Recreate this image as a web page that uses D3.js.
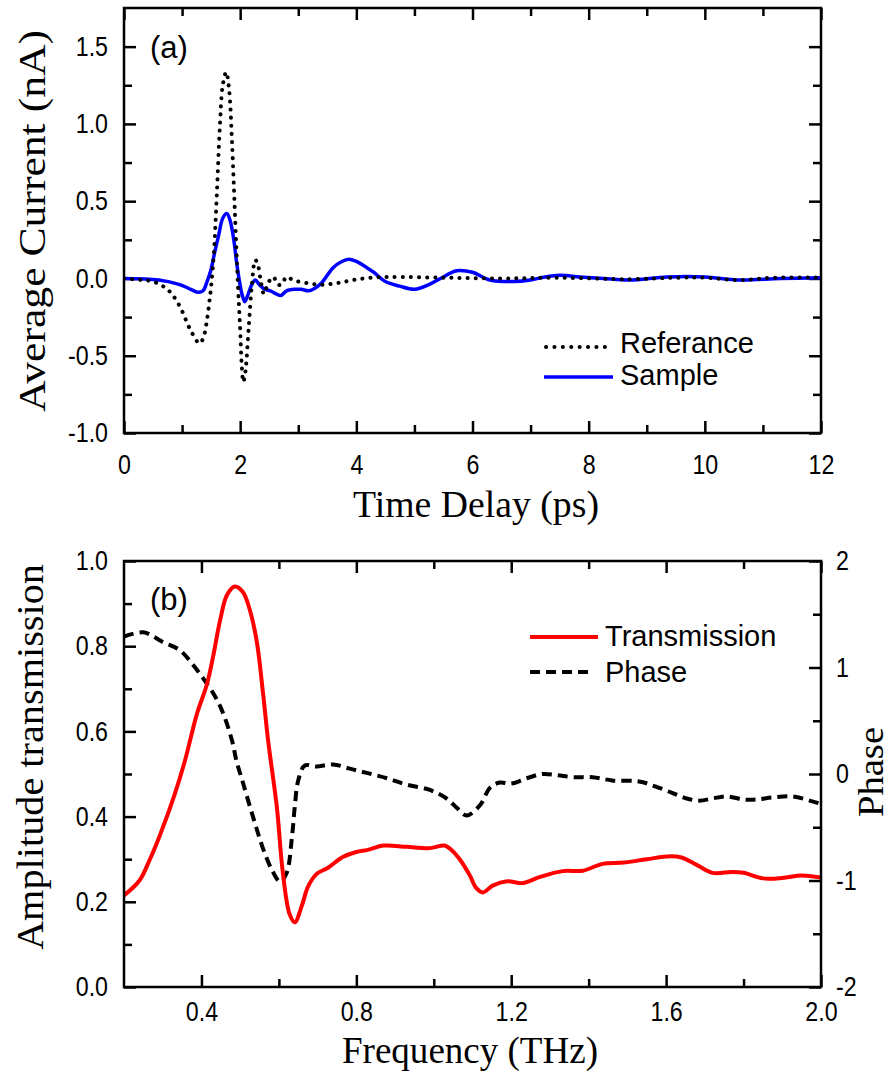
<!DOCTYPE html>
<html>
<head>
<meta charset="utf-8">
<script src="https://cdn.jsdelivr.net/npm/d3@7"></script>
<style>
  body { margin: 0; background: #fff; }
</style>
</head>
<body>
<script>
// ---- panel (a): time-domain waveforms ----
const refTime = [0, 0.3, 0.5, 0.67, 0.8, 0.96, 1.14, 1.3, 1.36, 1.42, 1.46, 1.5, 1.55, 1.6, 1.65, 1.7, 1.76, 1.81, 1.86, 1.91, 1.96, 2.0, 2.03, 2.055, 2.08, 2.1, 2.15, 2.2, 2.26, 2.31, 2.36, 2.41, 2.48, 2.57, 2.65, 2.71, 2.8, 2.91, 3.15, 3.4, 3.67, 3.95, 4.25, 4.6, 5.5, 6.5, 7.5, 8.7, 9.5, 10.0, 10.6, 11.2, 12];
const refCurrent = [0, -0.01, -0.02, -0.05, -0.09, -0.18, -0.33, -0.42, -0.39, -0.29, -0.18, -0.05, 0.18, 0.56, 0.98, 1.25, 1.335, 1.22, 0.88, 0.42, -0.03, -0.33, -0.58, -0.67, -0.63, -0.57, -0.3, -0.05, 0.12, 0.08, -0.03, -0.1, -0.03, 0.01, -0.04, -0.04, 0.01, -0.01, -0.03, -0.04, -0.03, -0.01, 0.005, 0.01, 0.005, 0, 0.005, -0.005, 0.005, 0.005, -0.01, 0.005, 0.005];

const sampleTime = [0, 0.6, 0.96, 1.15, 1.28, 1.36, 1.43, 1.5, 1.55, 1.63, 1.7, 1.77, 1.83, 1.89, 1.94, 1.98, 2.03, 2.08, 2.13, 2.2, 2.26, 2.33, 2.42, 2.52, 2.62, 2.7, 2.8, 2.95, 3.05, 3.18, 3.3, 3.4, 3.6, 3.75, 3.87, 4.0, 4.18, 4.3, 4.5, 4.75, 5.0, 5.25, 5.45, 5.73, 6.0, 6.3, 6.7, 7.0, 7.25, 7.5, 7.85, 8.25, 8.7, 9.35, 10.0, 10.6, 11.3, 12];
const sampleCurrent = [0, -0.01, -0.04, -0.07, -0.09, -0.08, -0.02, 0.06, 0.15, 0.28, 0.39, 0.42, 0.37, 0.25, 0.1, 0, -0.1, -0.15, -0.11, -0.04, -0.01, -0.04, -0.07, -0.08, -0.1, -0.11, -0.08, -0.07, -0.07, -0.08, -0.06, -0.03, 0.07, 0.11, 0.125, 0.11, 0.07, 0.04, -0.02, -0.05, -0.07, -0.04, 0, 0.05, 0.04, -0.01, -0.02, -0.01, 0.01, 0.02, 0.01, 0, -0.01, 0.01, 0.01, -0.01, 0, 0.005];

// ---- panel (b): spectra ----
const transFreq = [0.2, 0.24, 0.267, 0.293, 0.33, 0.357, 0.388, 0.414, 0.43, 0.448, 0.466, 0.486, 0.507, 0.525, 0.543, 0.559, 0.572, 0.595, 0.61, 0.628, 0.641, 0.659, 0.675, 0.697, 0.727, 0.765, 0.8, 0.83, 0.87, 0.93, 0.99, 1.028, 1.045, 1.067, 1.093, 1.11, 1.127, 1.152, 1.19, 1.23, 1.273, 1.333, 1.385, 1.436, 1.49, 1.55, 1.61, 1.64, 1.68, 1.72, 1.77, 1.8, 1.85, 1.9, 1.95, 2.0];
const transAmp = [0.215, 0.25, 0.3, 0.357, 0.45, 0.53, 0.64, 0.71, 0.775, 0.86, 0.92, 0.94, 0.927, 0.885, 0.81, 0.69, 0.58, 0.42, 0.27, 0.17, 0.152, 0.19, 0.235, 0.265, 0.28, 0.305, 0.317, 0.322, 0.332, 0.329, 0.326, 0.332, 0.322, 0.3, 0.262, 0.232, 0.222, 0.238, 0.248, 0.244, 0.258, 0.272, 0.273, 0.289, 0.292, 0.3, 0.307, 0.304, 0.286, 0.268, 0.27, 0.268, 0.255, 0.256, 0.262, 0.257];

const phaseFreq = [0.2, 0.25, 0.3, 0.345, 0.375, 0.404, 0.435, 0.456, 0.48, 0.49, 0.507, 0.533, 0.56, 0.582, 0.603, 0.62, 0.633, 0.641, 0.65, 0.667, 0.697, 0.74, 0.783, 0.827, 0.879, 0.93, 0.99, 1.033, 1.06, 1.085, 1.12, 1.145, 1.17, 1.2, 1.24, 1.28, 1.317, 1.36, 1.41, 1.46, 1.53, 1.575, 1.617, 1.653, 1.686, 1.72, 1.756, 1.8, 1.833, 1.875, 1.926, 1.98, 2.0];
const phaseVal = [1.29, 1.33, 1.24, 1.16, 1.04, 0.9, 0.73, 0.57, 0.3, 0.13, -0.08, -0.4, -0.71, -0.9, -1.01, -0.93, -0.62, -0.31, -0.06, 0.08, 0.07, 0.09, 0.05, 0.01, -0.04, -0.1, -0.15, -0.23, -0.32, -0.39, -0.29, -0.13, -0.08, -0.09, -0.04, 0, -0.01, -0.03, -0.03, -0.06, -0.07, -0.12, -0.18, -0.23, -0.25, -0.23, -0.21, -0.24, -0.24, -0.22, -0.21, -0.26, -0.28];

// tick values
const aYMajor = [-1, -0.5, 0, 0.5, 1, 1.5];
const aYMinor = [-0.75, -0.25, 0.25, 0.75, 1.25];
const aXMajor = [0, 2, 4, 6, 8, 10, 12];
const aXMinor = [1, 3, 5, 7, 9, 11];
const bXMajor = [0.4, 0.8, 1.2, 1.6, 2.0];
const bXMinor = [0.6, 1.0, 1.4, 1.8];
const bYMajor = [0, 0.2, 0.4, 0.6, 0.8, 1.0];
const bYMinor = [0.1, 0.3, 0.5, 0.7, 0.9];
const bRMajor = [-2, -1, 0, 1, 2];
const bRMinor = [-1.5, -0.5, 0.5, 1.5];

const W = 892, H = 1079;
const L = 124, R = 821;
const SQ = 0.86; // tick numbers in the source look squeezed sideways
const sans = "Liberation Sans, Arial, sans-serif";
const serif = "Liberation Serif, Times New Roman, serif";

const svg = d3.select("body").append("svg").attr("width", W).attr("height", H);

const xA = d3.scaleLinear().domain([0, 12]).range([L, R]);
const yA = d3.scaleLinear().domain([-1, 1.75]).range([433, 8]);
const xB = d3.scaleLinear().domain([0.2, 2.0]).range([L, R]);
const yB = d3.scaleLinear().domain([0, 1]).range([987, 561]);
const yB2 = d3.scaleLinear().domain([-2, 2]).range([987, 561]);

function addAxis(maker, scale, at, major, minor, fmt, pad) {
  const g = svg.append("g").attr("transform", at);
  g.append("g").call(maker(scale).tickValues(minor).tickSize(-8).tickSizeOuter(0).tickFormat(""));
  const m = g.append("g").call(maker(scale).tickValues(major).tickSize(-12).tickSizeOuter(0)
    .tickPadding(pad || 0).tickFormat(fmt || ""));
  g.selectAll(".domain").remove();
  g.selectAll("line").attr("stroke", "#000").attr("stroke-width", 2.5);
  m.selectAll("text")
    .attr("font-family", sans).attr("font-size", 27).attr("fill", "#000")
    .attr("transform", "scale(" + SQ + ",1)")
    .attr("x", function() { const x = this.getAttribute("x"); return x ? +x / SQ : null; });
}

const f1 = d => d.toFixed(1);

// panel (a) axes
addAxis(d3.axisLeft, yA, `translate(${L},0)`, aYMajor, aYMinor, f1, 16);
addAxis(d3.axisRight, yA, `translate(${R},0)`, aYMajor, aYMinor);
addAxis(d3.axisBottom, xA, `translate(0,433)`, aXMajor, aXMinor, d => String(d), 22);
addAxis(d3.axisTop, xA, `translate(0,8)`, aXMajor, aXMinor);

// panel (b) axes
addAxis(d3.axisLeft, yB, `translate(${L},0)`, bYMajor, bYMinor, f1, 16);
addAxis(d3.axisRight, yB2, `translate(${R},0)`, bRMajor, bRMinor, d => String(d), 15);
addAxis(d3.axisBottom, xB, `translate(0,987)`, bXMajor, bXMinor, f1, 15);
addAxis(d3.axisTop, xB, `translate(0,561)`, bXMajor, bXMinor);

// clip areas
const defs = svg.append("defs");
defs.append("clipPath").attr("id", "clipA").append("rect")
  .attr("x", L).attr("y", yA(1.75)).attr("width", R - L).attr("height", yA(-1) - yA(1.75));
defs.append("clipPath").attr("id", "clipB").append("rect")
  .attr("x", L).attr("y", yB(1)).attr("width", R - L).attr("height", yB(0) - yB(1));

const curve = d3.curveCatmullRom.alpha(0.5);
const zip = (a, b) => a.map((v, i) => [v, b[i]]);

const lineA = d3.line().x(d => xA(d[0])).y(d => yA(d[1])).curve(curve);
const lineB = d3.line().x(d => xB(d[0])).y(d => yB(d[1])).curve(curve);
const lineB2 = d3.line().x(d => xB(d[0])).y(d => yB2(d[1])).curve(curve);

const gA = svg.append("g").attr("clip-path", "url(#clipA)");
gA.append("path").attr("d", lineA(zip(sampleTime, sampleCurrent)))
  .attr("fill", "none").attr("stroke", "#0000ff").attr("stroke-width", 3.5);
gA.append("path").attr("d", lineA(zip(refTime, refCurrent)))
  .attr("fill", "none").attr("stroke", "#000").attr("stroke-width", 4)
  .attr("stroke-linecap", "round").attr("stroke-dasharray", "0.1 8");

const gB = svg.append("g").attr("clip-path", "url(#clipB)");
gB.append("path").attr("d", lineB2(zip(phaseFreq, phaseVal)))
  .attr("fill", "none").attr("stroke", "#000").attr("stroke-width", 4)
  .attr("stroke-dasharray", "10 6");
gB.append("path").attr("d", lineB(zip(transFreq, transAmp)))
  .attr("fill", "none").attr("stroke", "#ff0000").attr("stroke-width", 4);

// frames
svg.append("rect").attr("x", L).attr("y", yA(1.75)).attr("width", R - L).attr("height", yA(-1) - yA(1.75))
  .attr("fill", "none").attr("stroke", "#000").attr("stroke-width", 2.5);
svg.append("rect").attr("x", L).attr("y", yB(1)).attr("width", R - L).attr("height", yB(0) - yB(1))
  .attr("fill", "none").attr("stroke", "#000").attr("stroke-width", 2.5);

function sText(x, y, str, size) {
  svg.append("text").attr("x", x).attr("y", y)
    .attr("font-family", sans).attr("font-size", size).attr("fill", "#000").text(str);
}

sText(150, 58, "(a)", 31);
sText(150, 610, "(b)", 31);

// legends
svg.append("line").attr("x1", 546).attr("x2", 613).attr("y1", 347).attr("y2", 347)
  .attr("stroke", "#000").attr("stroke-width", 4).attr("stroke-linecap", "round").attr("stroke-dasharray", "0.1 8.3");
sText(620, 353, "Referance", 29);
svg.append("line").attr("x1", 544).attr("x2", 613).attr("y1", 377).attr("y2", 377)
  .attr("stroke", "#0000ff").attr("stroke-width", 3.5);
sText(620, 385, "Sample", 29);

svg.append("line").attr("x1", 530).attr("x2", 598).attr("y1", 637).attr("y2", 637)
  .attr("stroke", "#ff0000").attr("stroke-width", 4);
sText(605, 646, "Transmission", 29);
svg.append("line").attr("x1", 530).attr("x2", 590).attr("y1", 672).attr("y2", 672)
  .attr("stroke", "#000").attr("stroke-width", 4).attr("stroke-dasharray", "10 6");
sText(605, 682, "Phase", 29);

// axis titles (serif)
function title(x, y, str, len, rot, size) {
  svg.append("text").attr("transform", `translate(${x},${y})` + (rot ? " rotate(-90)" : ""))
    .attr("text-anchor", "middle").attr("font-family", serif).attr("font-size", size || 37).attr("fill", "#000")
    .attr("textLength", len).attr("lengthAdjust", "spacingAndGlyphs").text(str);
}
title(45, 221, "Average Current (nA)", 382, true);
title(476, 517, "Time Delay (ps)", 246, false);
title(43, 757, "Amplitude transmission", 386, true);
title(470, 1063, "Frequency (THz)", 256, false);
title(883, 772, "Phase", 90, true, 35);
</script>
</body>
</html>
